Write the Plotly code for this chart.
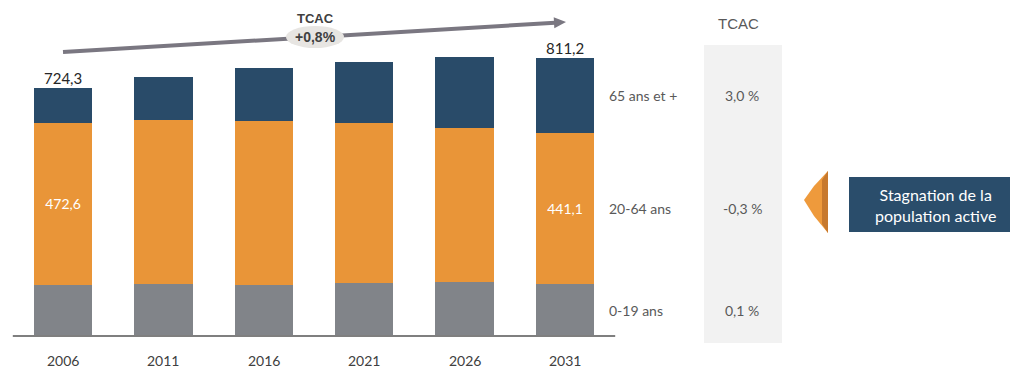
import math
import plotly.graph_objects as go

# Population by age group (thousands), census years and projections
years = ["2006", "2011", "2016", "2021", "2026", "2031"]
pop_0_19 = [148.7, 151.6, 148.7, 154.5, 157.4, 151.6]
pop_20_64 = [472.6, 478.0, 478.0, 466.0, 449.0, 441.1]
pop_65_plus = [103.0, 125.0, 154.5, 178.0, 207.0, 218.5]

group_labels = ["0-19 ans", "20-64 ans", "65 ans et +"]
group_cagr = [0.1, -0.3, 3.0]          # TCAC per age group, %
total_cagr = 0.8                        # TCAC of the total population, %

# Figure geometry
W, H = 1010, 368
BASE_PX = 336            # pixel row of the zero line
UNIT_PX = 0.343          # pixels per thousand inhabitants
FIRST_BAR_PX = 63        # pixel column of the first bar centre
STEP_PX = 100.4          # pixels between bar centres

BLUE = "#294b69"
ORANGE = "#e99538"
GREY = "#818489"
FONT = "Lato, 'Open Sans', sans-serif"
ARIAL = "'Liberation Sans', Arial, sans-serif"


def fr(v, nd=1):
    return f"{v:.{nd}f}".replace(".", ",")


def px(xp):
    return xp / W


def py(yp):
    return 1 - yp / H


x = list(range(len(years)))
totals = [a + b + c for a, b, c in zip(pop_0_19, pop_20_64, pop_65_plus)]
last = len(years) - 1

mid_labels = ["" for _ in years]
mid_labels[0] = fr(pop_20_64[0])
mid_labels[last] = fr(pop_20_64[last])

fig = go.Figure()
fig.add_trace(go.Bar(x=x, y=pop_0_19, width=0.58, marker=dict(color=GREY, line_width=0),
                     name=group_labels[0], hoverinfo="skip"))
fig.add_trace(go.Bar(x=x, y=pop_20_64, width=0.58, marker=dict(color=ORANGE, line_width=0),
                     name=group_labels[1], text=mid_labels, textposition="inside",
                     insidetextanchor="middle", constraintext="none",
                     textfont=dict(color="white", size=14, family=FONT), hoverinfo="skip"))
fig.add_trace(go.Bar(x=x, y=pop_65_plus, width=0.58, marker=dict(color=BLUE, line_width=0),
                     name=group_labels[2], hoverinfo="skip"))

annotations = []
shapes = []

# totals above first and last bars
for i in (0, last):
    annotations.append(dict(x=i, y=totals[i], xref="x", yref="y", text=fr(totals[i]),
                            showarrow=False, xanchor="center", yanchor="middle", yshift=10,
                            font=dict(size=15, color="#262626", family=FONT)))

# year labels under the axis
for i, yr in enumerate(years):
    annotations.append(dict(x=i, y=0, xref="x", yref="y", text=yr, showarrow=False,
                            xanchor="center", yanchor="middle", yshift=-24,
                            font=dict(size=14, color="#404040", family=FONT)))

# age-group labels and TCAC values aligned with the last bar's segments
segments = [pop_0_19[last], pop_20_64[last], pop_65_plus[last]]
bottom = 0
for label, seg, rate in zip(group_labels, segments, group_cagr):
    mid = bottom + seg / 2
    bottom += seg
    annotations.append(dict(x=px(607), y=mid, xref="paper", yref="y", text=label,
                            showarrow=False, xanchor="left", yanchor="middle",
                            font=dict(size=14, color="#595959", family=FONT)))
    annotations.append(dict(x=px(742), y=mid, xref="paper", yref="y",
                            text=f"{fr(rate)} %", showarrow=False, xanchor="center",
                            yanchor="middle", font=dict(size=14, color="#595959", family=FONT)))

# TCAC column
shapes.append(dict(type="rect", xref="paper", yref="paper", x0=px(704), x1=px(782),
                   y0=py(343), y1=py(45), fillcolor="#f2f2f2", line_width=0, layer="below"))
annotations.append(dict(x=px(738), y=py(24), xref="paper", yref="paper", text="TCAC",
                        showarrow=False, xanchor="center", yanchor="middle",
                        font=dict(size=15, color="#595959", family=ARIAL)))

# x axis line
shapes.append(dict(type="line", xref="x", yref="y", x0=-0.5, x1=5.5, y0=0, y1=0,
                   line=dict(color="#7f7f7f", width=2), layer="above"))

# overall growth arrow
tail = (63, 52)
head = (566, 22)
dx, dy = head[0] - tail[0], tail[1] - head[1]
ln = math.hypot(dx, dy)
ux, uy = dx / ln, dy / ln
nx, ny = -uy, ux
hl, hw = 12, 5.5
bx, by = -hl * ux, -hl * uy
shapes.append(dict(type="line", xref="paper", yref="paper",
                   x0=px(tail[0]), y0=py(tail[1]),
                   x1=px(head[0] + bx + 1), y1=py(head[1] - by),
                   line=dict(color="#7a7781", width=4)))
shapes.append(dict(type="path", xref="paper", yref="paper", xsizemode="pixel",
                   ysizemode="pixel", xanchor=px(head[0]), yanchor=py(head[1]),
                   path=f"M 0 0 L {bx + hw * nx:.2f} {by + hw * ny:.2f} "
                        f"L {bx - hw * nx:.2f} {by - hw * ny:.2f} Z",
                   fillcolor="#7a7781", line_width=0))
# label bubble on the arrow
shapes.append(dict(type="circle", xref="paper", yref="paper", xsizemode="pixel",
                   ysizemode="pixel", xanchor=px(315), yanchor=py(37),
                   x0=-29, x1=29, y0=-11, y1=11, fillcolor="#e7e5e2", line_width=0))
annotations.append(dict(x=px(315), y=py(19), xref="paper", yref="paper", text="<b>TCAC</b>",
                        showarrow=False, xanchor="center", yanchor="middle",
                        font=dict(size=13, color="#404040", family=ARIAL)))
annotations.append(dict(x=px(315), y=py(37), xref="paper", yref="paper",
                        text=f"<b>+{fr(total_cagr)}%</b>", showarrow=False,
                        xanchor="center", yanchor="middle",
                        font=dict(size=14, color="#404040", family=ARIAL)))

# callout: orange chevron and blue box
shapes.append(dict(type="path", xref="paper", yref="paper",
                   path=f"M {px(828)} {py(171)} L {px(814)} {py(186)} L {px(804)} {py(200)} "
                        f"L {px(814)} {py(216)} L {px(828)} {py(233)} Z",
                   fillcolor="#ee9a3c", line_width=0))
shapes.append(dict(type="path", xref="paper", yref="paper",
                   path=f"M {px(822)} {py(180)} L {px(828)} {py(171)} L {px(828)} {py(233)} "
                        f"L {px(822)} {py(224)} Z",
                   fillcolor="#c7792e", line_width=0))
shapes.append(dict(type="rect", xref="paper", yref="paper", x0=px(849), x1=1,
                   y0=py(232), y1=py(177), fillcolor="#2a4d6b", line_width=0))
annotations.append(dict(x=px(935), y=py(204.5), xref="paper", yref="paper",
                        text="Stagnation de la<br>population active", showarrow=False,
                        xanchor="center", yanchor="middle", align="center",
                        font=dict(size=16, color="white", family=FONT)))

fig.update_layout(
    width=W, height=H,
    margin=dict(l=0, r=0, t=0, b=0),
    barmode="stack",
    showlegend=False,
    plot_bgcolor="white",
    paper_bgcolor="white",
    xaxis=dict(range=[-FIRST_BAR_PX / STEP_PX, (W - FIRST_BAR_PX) / STEP_PX],
               visible=False, fixedrange=True),
    yaxis=dict(range=[-(H - BASE_PX) / UNIT_PX, BASE_PX / UNIT_PX],
               visible=False, fixedrange=True),
    shapes=shapes,
    annotations=annotations,
    font=dict(family=FONT),
)

fig.write_html("out.html")
